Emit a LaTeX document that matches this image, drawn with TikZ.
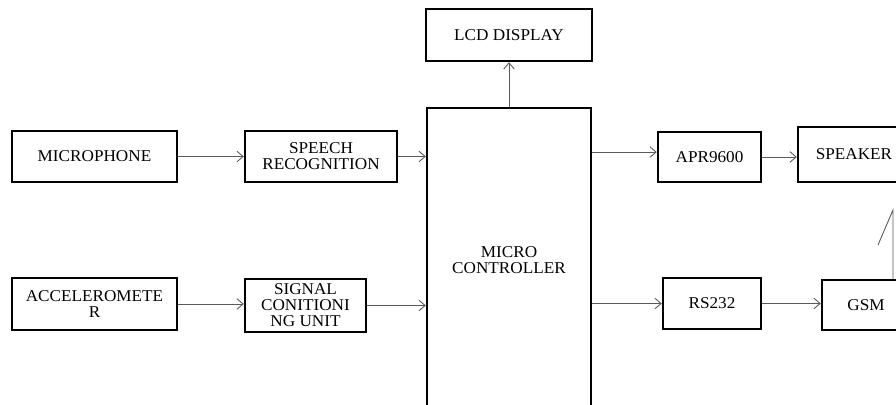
\documentclass[tikz,border=0pt]{standalone}
\usepackage{fontspec}
\setmainfont{Liberation Serif}[FakeStretch=1.04]
\usetikzlibrary{arrows.meta}
\begin{document}
\begin{tikzpicture}[x=0.02cm, y=-0.02cm,
    block/.style={draw, line width=1.4pt, align=center, inner sep=0pt,
                  font=\fontsize{9.4}{9.1}\selectfont},
    link/.style={-{Straight Barb[length=3.5pt, width=6pt]}, draw=black!65, line width=0.5pt}]
      \useasboundingbox (0, 0) rectangle (896, 405);
      \node (mic)    [block, minimum width=3.3cm,  minimum height=1.02cm] at (94.5, 156.5) {MICROPHONE};
      \node (speech) [block, minimum width=3.04cm, minimum height=1.02cm] at (321, 156.5) {SPEECH\\RECOGNITION};
      \node (acc)    [block, minimum width=3.3cm,  minimum height=1.04cm] at (94.5, 304) {ACCELEROMETE\\R};
      \node (signal) [block, minimum width=2.42cm, minimum height=1.06cm] at (305.5, 305.5) {SIGNAL\\CONITIONI\\NG UNIT};
      \node (lcd)    [block, minimum width=3.32cm, minimum height=1.04cm] at (509, 35) {LCD DISPLAY};
      \node (mcu)    [block, minimum width=3.28cm, minimum height=6.08cm] at (509, 260) {MICRO\\CONTROLLER};
      \node (apr)    [block, minimum width=2.06cm, minimum height=1cm]    at (709.5, 157) {APR9600};
      \node (speaker)[block, minimum width=2.24cm, minimum height=1.1cm]  at (854, 154.5) {SPEAKER};
      \node (rs)     [block, minimum width=1.96cm, minimum height=1.02cm] at (712, 303.5) {RS232};
      \node (gsm)    [block, minimum width=1.76cm, minimum height=1cm]    at (866, 305) {GSM};
      \coordinate (ant) at (893, 210);
      \coordinate (barb) at (878, 245);
      % connections
      \draw[link] (mic) -- (speech);
      \draw[link] (speech.east) -- (speech.east -| mcu.west);
      \draw[link] (acc.east) -- (acc.east -| signal.west);
      \draw[link] (signal.east) -- (signal.east -| mcu.west);
      \draw[link] (mcu) -- (lcd);
      \draw[link] ([yshift=2.8pt]mcu.east |- apr.west) -- ([yshift=2.8pt]apr.west);
      \draw[link] (apr.east) -- (apr.east -| speaker.west);
      \draw[link] (mcu.east |- rs.west) -- (rs.west);
      \draw[link] (rs.east) -- (rs.east -| gsm.west);
      \draw[draw=black!65, line width=0.5pt] (gsm.north -| ant) -- (ant) -- (barb);
\end{tikzpicture}
\end{document}
